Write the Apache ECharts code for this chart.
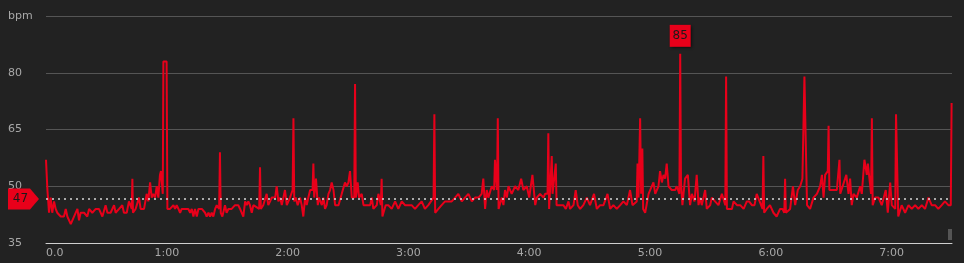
<!DOCTYPE html>
<html>
<head>
<meta charset="utf-8">
<script src="https://cdn.jsdelivr.net/npm/echarts@6/dist/echarts.min.js"></script>
<style>
html,body{margin:0;padding:0;background:#222222;}
#chart{width:964px;height:263px;}
</style>
</head>
<body>
<div id="chart"></div>
<script>
// Elapsed time in minutes for each heart-rate sample
const minutes = [
  0,0.7,1.5,2.3,3.1,4.0,4.8,5.6,7.3,8.9,9.8,10.6,12.3,13.1,13.9,15.6,16.4,17.2,18.9,20.5,21.4,23.0,24.7,26.3,28.0,29.6,30.5,32.1,33.8,34.6,35.4,36.3,37.9,38.7,40.1,41.2,42.6,42.9,43.2,44.5,46.2,47.0,48.7,
  49.2,50.0,50.8,51.7,52.5,53.3,54.2,55.0,55.8,56.6,57.1,58.0,58.3,59.9,60.3,61.6,63.3,64.1,64.9,65.8,66.6,67.4,69.1,70.7,71.6,72.4,73.2,74.0,74.9,75.7,77.4,79.0,79.8,80.7,81.5,82.3,83.1,84.0,84.8,86.0,86.4,86.8,87.6,88.9,89.7,90.6,92.2,93.9,95.5,96.4,98.0,98.9,99.7,100.5,
  101.3,102.2,103.0,103.8,105.9,106.3,106.7,107.9,108.8,109.6,110.4,111.3,112.1,112.9,113.8,114.6,115.4,116.3,117.1,117.9,118.7,119.6,121.2,122.5,122.9,123.3,124.0,125.0,126.2,127.0,127.8,128.7,129.5,130.3,131.2,132.4,132.8,133.2,134.1,135.0,135.6,137.0,137.8,138.6,139.4,140.3,141.1,141.9,142.8,143.6,145.3,146.9,148.5,
  149.4,150.2,151.0,151.9,153.1,153.5,153.9,154.8,155.5,156.8,157.7,159.3,161.0,161.8,162.6,164.3,165.1,166.3,166.7,167.1,168.7,170.0,171.7,173.4,175.0,176.7,178.3,180.0,181.6,183.3,184.9,186.6,188.2,189.9,192.5,192.9,193.3,194.9,196.5,198.2,
  199.9,201.5,203.2,204.8,206.5,208.1,209.8,211.5,213.1,214.8,216.4,217.2,218.1,218.9,219.7,221.4,222.6,223.0,224.0,224.4,224.8,226.4,227.2,228.0,228.9,229.7,231.3,233.0,234.6,236.0,237.1,238.8,240.0,241.6,243.0,243.8,245.4,247.1,247.9,
  249.1,249.5,249.9,251.2,251.6,253.2,253.6,255.3,257.0,258.2,259.5,260.3,262.0,263.1,264.1,265.3,266.9,268.6,270.2,272.2,273.6,275.2,276.9,278.9,280.2,281.8,283.5,285.2,286.8,288.5,290.1,291.3,293.4,293.8,294.3,295.1,295.6,296.2,296.6,297.6,299.3,
  301.7,302.6,303.4,304.2,305.0,305.9,306.7,307.5,308.3,309.2,310.8,312.5,313.3,314.6,315.0,315.4,316.1,317.4,318.8,319.9,320.8,322.1,323.2,324.1,324.9,325.7,327.4,328.2,329.9,330.7,332.3,334.0,335.7,337.4,337.8,338.2,340.7,341.5,343.2,344.8,346.5,348.1,
  349.2,350.6,351.9,353.0,355.9,356.3,356.7,358.0,359.6,361.3,362.9,364.6,365.8,366.7,367.1,367.5,369.6,371.0,372.1,373.4,374.6,375.7,376.7,377.6,378.0,379.5,381.2,382.9,384.5,385.4,386.2,387.0,388.3,388.7,389.1,391.2,392.8,394.1,394.5,397.5,398.6,
  399.4,400.2,401.1,402.7,404.4,405.2,406.5,407.7,408.2,409.8,410.2,410.6,411.8,413.5,415.1,417.1,418.1,419.3,420.1,421.8,422.2,422.9,423.3,425.0,426.7,428.4,430.0,431.7,433.3,435.0,436.6,438.3,439.9,441.6,443.2,444.9,446.5,448.2,449.4,449.8
];
// Heart rate (bpm) for each sample
const bpm = [
  57,49,43,47,43,46,44,43,42,42,44,42,40,41,41,44,41,43,43,42,44,43,44,44,42,45,43,43,45,43,43,44,45,43,43,46,44,52,43,44,47,44,44,
  44,48,46,51,47,48,47,50,47,53,54,48,83,83,44,44,45,44,45,44,43,44,44,44,43,44,42,44,42,44,44,43,42,43,42,43,42,44,45,44,59,43,42,45,43,44,44,45,45,44,42,46,45,46,
  45,43,45,45,44,55,44,45,45,48,45,46,47,47,47,50,46,47,45,47,49,45,47,49,68,46,47,45,47,45,42,47,45,47,49,49,56,47,52,45,47,45,47,44,45,48,49,51,49,45,45,48,51,
  50,51,54,47,47,77,47,51,47,48,45,45,45,47,44,45,48,45,52,42,45,45,44,46,44,46,45,45,45,44,45,46,44,45,47,69,43,44,45,46,
  46,46,47,48,46,47,48,46,47,47,48,52,44,49,47,50,49,57,49,68,44,47,45,49,47,50,48,50,49,52,49,50,47,53,45,47,48,47,48,
  48,64,44,58,48,56,45,45,45,44,46,44,45,49,45,44,45,47,45,48,44,45,45,48,44,45,44,45,46,45,49,45,46,56,47,68,48,60,44,43,48,
  51,48,49,50,54,51,53,52,56,50,49,49,50,48,85,51,45,52,53,45,48,46,53,45,47,45,49,44,45,47,46,45,48,45,79,44,44,46,45,45,44,46,
  46,45,45,48,44,58,43,44,45,43,42,44,44,43,52,43,44,50,45,49,50,52,79,79,45,44,47,48,50,53,47,53,54,66,49,49,49,57,48,53,48,
  52,45,48,47,50,48,57,53,56,48,68,45,47,47,45,49,43,51,45,44,69,69,42,45,43,45,44,45,44,45,44,47,45,45,44,45,46,45,45,72
];
const avgBpm = 46.6;           // dotted average line
const yTicks = [35, 50, 65, 80, 95];
const yTopLabel = 'bpm';
const xTickMinutes = [0, 60, 120, 180, 240, 300, 360, 420];

const RED = '#e8001a';
const data = minutes.map((t, i) => [t, bpm[i]]);
const iMax = bpm.indexOf(Math.max(...bpm));

const chart = echarts.init(document.getElementById('chart'), null, {renderer: 'canvas'});
chart.setOption({
  backgroundColor: '#222222',
  animation: false,
  grid: {left: 46, right: 12, top: 16, bottom: 20, containLabel: false},
  xAxis: {
    type: 'value', min: 0, max: 450, interval: 60,
    axisLine: {show: true, lineStyle: {color: '#cfcfcf', width: 1}},
    axisTick: {show: false},
    splitLine: {show: false},
    axisLabel: {
      color: '#a8a8a8', fontSize: 11, fontFamily: 'DejaVu Sans', margin: 5,
      alignMinLabel: 'left', showMaxLabel: false,
      formatter: v => xTickMinutes.includes(v) ? (v === 0 ? '0.0' : (v / 60) + ':00') : ''
    }
  },
  yAxis: {
    type: 'value', min: yTicks[0], max: yTicks[yTicks.length - 1], interval: 15,
    axisLine: {show: false}, axisTick: {show: false},
    splitLine: {show: true, lineStyle: {color: '#555555', width: 1}},
    axisLabel: {
      color: '#a8a8a8', fontSize: 11, fontFamily: 'DejaVu Sans', align: 'left', margin: 38,
      formatter: v => v === yTicks[yTicks.length - 1] ? yTopLabel : String(v)
    }
  },
  series: [{
    type: 'line',
    data: data,
    showSymbol: false,
    smooth: false,
    lineStyle: {color: RED, width: 2},
    itemStyle: {color: RED},
    z: 3,
    markLine: {
      silent: true, symbol: ['none', 'none'],
      lineStyle: {color: '#d8d8d8', type: [2, 4], width: 1.5},
      label: {show: false},
      data: [{yAxis: avgBpm}]
    },
    markPoint: {
      silent: true,
      data: [
        {
          coord: [minutes[iMax], bpm[iMax]],
          symbol: 'rect', symbolSize: [21, 22], symbolOffset: [0, -18],
          itemStyle: {color: RED, shadowBlur: 3, shadowColor: 'rgba(0,0,0,0.7)', shadowOffsetX: 1, shadowOffsetY: 1},
          label: {show: true, position: 'inside', formatter: String(bpm[iMax]), color: '#1a1a1a', fontSize: 12, fontFamily: 'DejaVu Sans'}
        },
        {
          coord: [0, avgBpm],
          symbol: 'path://M0,0 L22,0 L31,10.5 L22,21 L0,21 Z', symbolSize: [31, 21], symbolOffset: [-22.5, 0],
          itemStyle: {color: RED},
          label: {show: true, position: 'inside', offset: [-3, 0], formatter: String(Math.round(avgBpm)), color: '#1a1a1a', fontSize: 12, fontFamily: 'DejaVu Sans'}
        }
      ]
    }
  }],
  graphic: [{type: 'rect', right: 12, top: 229, shape: {width: 4, height: 11}, style: {fill: '#555555'}}]
});
</script>
</body>
</html>
